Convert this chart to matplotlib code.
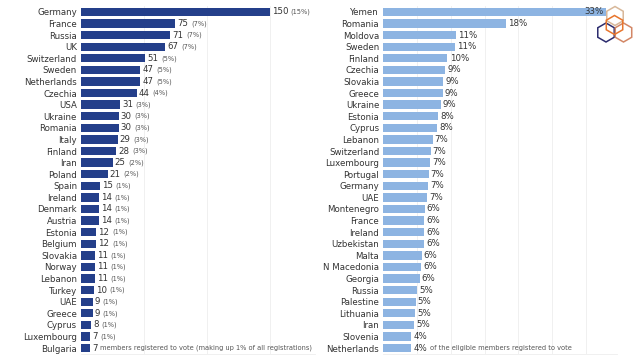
import matplotlib
matplotlib.use("Agg")
import matplotlib.pyplot as plt
from matplotlib.patches import RegularPolygon

# left panel: registered members per country
left_countries = ["Germany", "France", "Russia", "UK", "Switzerland", "Sweden", "Netherlands",
                  "Czechia", "USA", "Ukraine", "Romania", "Italy", "Finland", "Iran", "Poland",
                  "Spain", "Ireland", "Denmark", "Austria", "Estonia", "Belgium", "Slovakia",
                  "Norway", "Lebanon", "Turkey", "UAE", "Greece", "Cyprus", "Luxembourg", "Bulgaria"]
left_values = [150, 75, 71, 67, 51, 47, 47, 44, 31, 30, 30, 29, 28, 25, 21,
               15, 14, 14, 14, 12, 12, 11, 11, 11, 10, 9, 9, 8, 7, 7]
left_pcts = ["15%", "7%", "7%", "7%", "5%", "5%", "5%", "4%", "3%", "3%", "3%", "3%", "3%", "2%", "2%",
             "1%", "1%", "1%", "1%", "1%", "1%", "1%", "1%", "1%", "1%", "1%", "1%", "1%", "1%", "1%"]

# right panel: share of eligible members registered
right_countries = ["Yemen", "Romania", "Moldova", "Sweden", "Finland", "Czechia", "Slovakia",
                   "Greece", "Ukraine", "Estonia", "Cyprus", "Lebanon", "Switzerland", "Luxembourg",
                   "Portugal", "Germany", "UAE", "Montenegro", "France", "Ireland", "Uzbekistan",
                   "Malta", "N Macedonia", "Georgia", "Russia", "Palestine", "Lithuania", "Iran",
                   "Slovenia", "Netherlands"]
right_values = [33.0, 18.1, 10.8, 10.6, 9.5, 9.2, 8.9, 8.8, 8.5, 8.1, 8.0, 7.3, 7.0, 6.9,
                6.7, 6.6, 6.5, 6.1, 6.0, 6.0, 6.0, 5.7, 5.6, 5.4, 5.0, 4.8, 4.7, 4.6, 4.1, 4.1]
right_labels = ["33%", "18%", "11%", "11%", "10%", "9%", "9%", "9%", "9%", "8%", "8%", "7%", "7%", "7%",
                "7%", "7%", "7%", "6%", "6%", "6%", "6%", "6%", "6%", "6%", "5%", "5%", "5%", "5%",
                "4%", "4%"]

DARK = "#243f8a"
LIGHT = "#8db4e2"
TXT = "#333333"
FS = 6.2
FS_SMALL = 4.8

fig = plt.figure(figsize=(6.4, 3.6), dpi=100)
ax1 = fig.add_axes([0.127, 0.017, 0.365, 0.966])
ax2 = fig.add_axes([0.599, 0.017, 0.365, 0.966])


def style(ax, xmax, grid_step, names):
    ax.set_xlim(0, xmax)
    ax.set_ylim(len(names) - 0.5, -0.5)
    ax.set_yticks(range(len(names)))
    ax.set_yticklabels(names, fontsize=FS, color=TXT)
    ax.tick_params(axis="y", length=0, pad=3)
    ax.set_xticks([])
    for g in range(grid_step, int(xmax) + 1, grid_step):
        ax.axvline(g, color="#eeeeee", lw=0.6, zorder=0)
    for s in ["top", "right", "left"]:
        ax.spines[s].set_visible(False)
    ax.spines["bottom"].set_color("#eeeeee")
    ax.spines["bottom"].set_linewidth(0.6)


y = list(range(len(left_countries)))
ax1.barh(y, left_values, height=0.72, color=DARK, zorder=2)
style(ax1, 186, 50, left_countries)
for i, (v, p) in enumerate(zip(left_values, left_pcts)):
    if i == len(left_values) - 1:
        small = "members registered to vote (making up " + p + " of all registrations)"
    else:
        small = "(" + p + ")"
    t = ax1.text(v + 1.5, i, str(v), fontsize=FS, color=TXT, va="center", ha="left")
    ax1.annotate(small, xy=(1, 0.5), xycoords=t, xytext=(2, 0), textcoords="offset points",
                 fontsize=FS_SMALL, color="#555555", va="center", ha="left")

y = list(range(len(right_countries)))
ax2.barh(y, right_values, height=0.72, color=LIGHT, zorder=2)
style(ax2, 34.6, 5, right_countries)
for i, (v, lab) in enumerate(zip(right_values, right_labels)):
    if i == 0:
        ax2.text(v - 0.3, i, lab, fontsize=FS, color=TXT, va="center", ha="right")
        continue
    t = ax2.text(v + 0.3, i, lab, fontsize=FS, color=TXT, va="center", ha="left")
    if i == len(right_values) - 1:
        ax2.annotate("of the eligible members registered to vote", xy=(1, 0.5), xycoords=t,
                     xytext=(2, 0), textcoords="offset points",
                     fontsize=FS_SMALL, color="#555555", va="center", ha="left")

# hexagon logo, top right (axes in pixel units)
logo = fig.add_axes([590 / 640, 1 - 48 / 360, 50 / 640, 48 / 360])
logo.set_xlim(0, 50)
logo.set_ylim(48, 0)
logo.axis("off")
hexes = [(25, 16, "#d8b89a"), (16, 32.5, "#2c2c6e"), (33.5, 32.5, "#d38766"), (24.5, 25, "#e8752c")]
for cx, cy, c in hexes:
    logo.add_patch(RegularPolygon((cx, cy), 6, radius=9.5, orientation=0,
                                  fill=False, edgecolor=c, lw=1.1))

fig.savefig("out.png", dpi=100)
